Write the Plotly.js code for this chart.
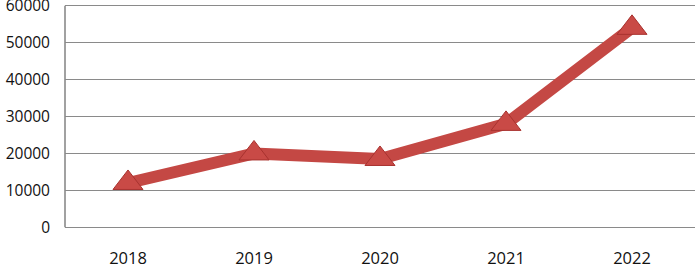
<!DOCTYPE html>
<html><head><meta charset="utf-8">
<script src="https://cdn.plot.ly/plotly-3.0.1.min.js"></script>
<style>html,body{margin:0;padding:0;background:#fff}#chart{width:695px;height:266px}</style>
</head><body><div id="chart"></div>
<script>
const years = ['2018', '2019', '2020', '2021', '2022'];
const values = [12000, 20000, 18500, 28000, 54000];
const yTicks = [0, 10000, 20000, 30000, 40000, 50000, 60000];

const trace = {
  x: years, y: values, type: 'scatter', mode: 'lines+markers',
  line: {color: '#c44844', width: 12},
  marker: {symbol: 'triangle-up', size: 26, color: '#c94a46', line: {color: '#a8322f', width: 1}},
  cliponaxis: false, hoverinfo: 'skip'
};
const layout = {
  width: 695, height: 266,
  margin: {l: 65, r: 0, t: 2, b: 35},
  paper_bgcolor: '#fff', plot_bgcolor: '#fff',
  showlegend: false,
  font: {family: 'Open Sans, sans-serif', color: '#111'},
  xaxis: {type: 'category', range: [-0.5, 4.5], showgrid: false, zeroline: false,
          showline: false, ticks: '', ticklabelstandoff: 15,
          tickfont: {size: 16.5, color: '#111'}},
  yaxis: {range: [-1000, 61000], tickvals: yTicks, ticktext: yTicks.map(String),
          showgrid: true, gridcolor: '#8a8a8a', gridwidth: 1.6, zeroline: false,
          showline: false, ticks: '',
          ticklabelstandoff: 14, tickfont: {size: 15.5, color: '#111'}},
  shapes: [{type: 'line', xref: 'paper', x0: 0, x1: 0, yref: 'y', y0: 0, y1: yTicks[yTicks.length - 1],
            line: {color: '#8a8a8a', width: 1.6}, layer: 'below'}]
};
Plotly.newPlot('chart', [trace], layout, {staticPlot: true, displayModeBar: false}).then(function(gd){
  // the top tick label sits at the very edge (as in the reference); keep it shown
  gd.querySelectorAll('.ytick text').forEach(function(e){ e.style.display = ''; });
});
</script></body></html>
